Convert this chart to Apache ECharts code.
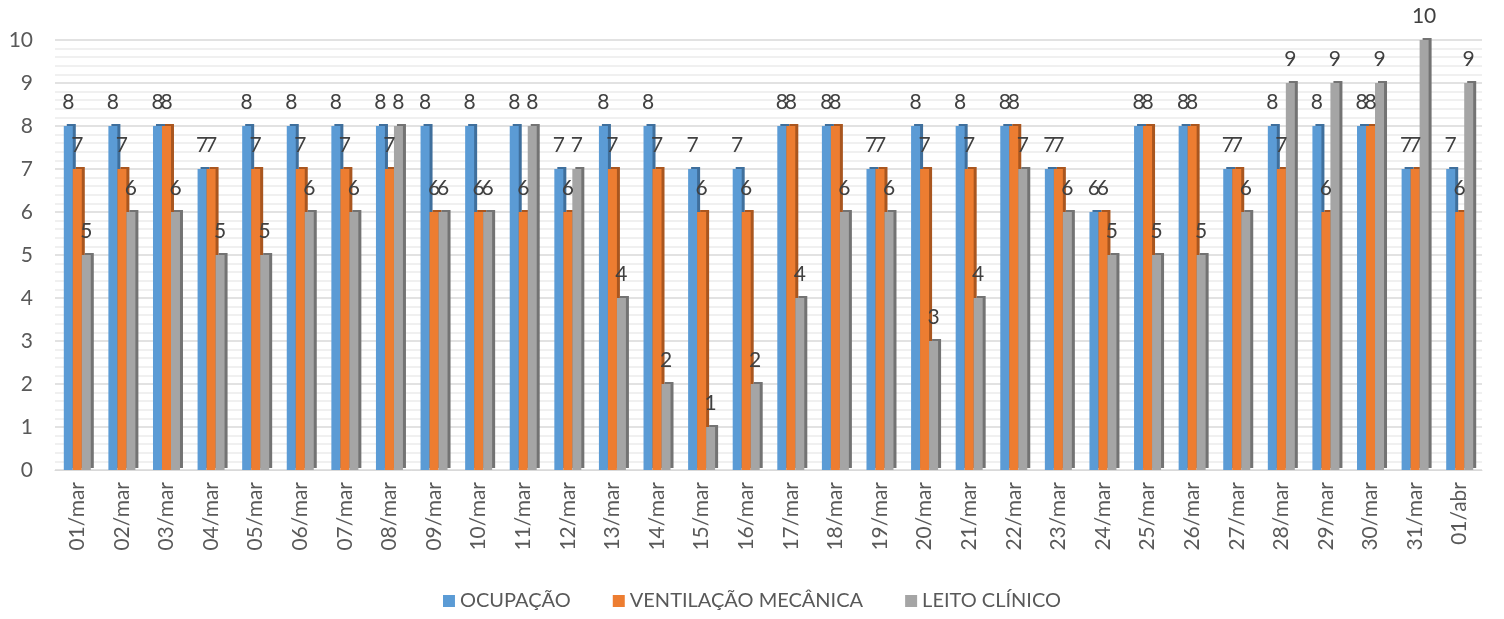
<!DOCTYPE html>
<html style="height: 100%">
<head>
<meta charset="utf-8">
<script src="https://cdn.jsdelivr.net/npm/echarts@6/dist/echarts.min.js"></script>
</head>
<body style="height: 100%; margin: 0; background: #fff">
<div id="container" style="width: 1504px; height: 619px"></div>
<script>
var days = ['01/mar','02/mar','03/mar','04/mar','05/mar','06/mar','07/mar','08/mar','09/mar','10/mar',
  '11/mar','12/mar','13/mar','14/mar','15/mar','16/mar','17/mar','18/mar','19/mar','20/mar',
  '21/mar','22/mar','23/mar','24/mar','25/mar','26/mar','27/mar','28/mar','29/mar','30/mar',
  '31/mar','01/abr'];
var ocupacao   = [8,8,8,7,8,8,8,8,8,8,8,7,8,8,7,7,8,8,7,8,8,8,7,6,8,8,7,8,8,8,7,7];
var ventilacao = [7,7,8,7,7,7,7,7,6,6,6,6,7,7,6,6,8,8,7,7,7,8,7,6,8,8,7,7,6,8,7,6];
var leito      = [5,6,6,5,5,6,6,8,6,6,8,7,4,2,1,2,4,6,6,3,4,7,6,5,5,5,6,9,9,9,10,9];

var txt = '#595959';
var font = 'Lato';

function serie(name, data, color, side) {
  return {
    name: name,
    type: 'bar',
    data: data,
    barWidth: 9,
    barGap: '0%',
    itemStyle: {
      color: color,
      shadowColor: side,
      shadowBlur: 0,
      shadowOffsetX: 3,
      shadowOffsetY: -2
    },
    label: {
      show: true,
      position: 'top',
      distance: 13,
      color: '#404040',
      fontSize: 21,
      fontFamily: font
    }
  };
}

var chart = echarts.init(document.getElementById('container'));
chart.setOption({
  backgroundColor: '#fff',
  animation: false,
  color: ['#5b9bd5', '#ed7d31', '#a5a5a5'],
  grid: { left: 55, right: 22, top: 40, bottom: 149 },
  legend: {
    bottom: 3,
    icon: 'rect',
    itemWidth: 12,
    itemHeight: 12,
    itemGap: 42,
    textStyle: { color: txt, fontSize: 20, fontFamily: font },
    data: ['OCUPAÇÃO', 'VENTILAÇÃO MECÂNICA', 'LEITO CLÍNICO']
  },
  xAxis: {
    type: 'category',
    data: days,
    axisLine: { show: true, lineStyle: { color: '#d9d9d9' } },
    axisTick: { show: false },
    axisLabel: { rotate: 90, color: txt, fontSize: 21, margin: 12, fontFamily: font }
  },
  yAxis: {
    type: 'value',
    min: 0,
    max: 10,
    interval: 1,
    axisLine: { show: false },
    axisTick: { show: false },
    axisLabel: { color: txt, fontSize: 21, margin: 22, fontFamily: font },
    splitLine: { lineStyle: { color: '#d9d9d9', width: 1.5 } },
    minorTick: { show: false, splitNumber: 5 },
    minorSplitLine: { show: true, lineStyle: { color: '#ececec', width: 1.5 } }
  },
  series: [
    serie('OCUPAÇÃO', ocupacao, '#5b9bd5', '#3f6f9c'),
    serie('VENTILAÇÃO MECÂNICA', ventilacao, '#ed7d31', '#a9561f'),
    serie('LEITO CLÍNICO', leito, '#a5a5a5', '#737373')
  ]
});
</script>
</body>
</html>
